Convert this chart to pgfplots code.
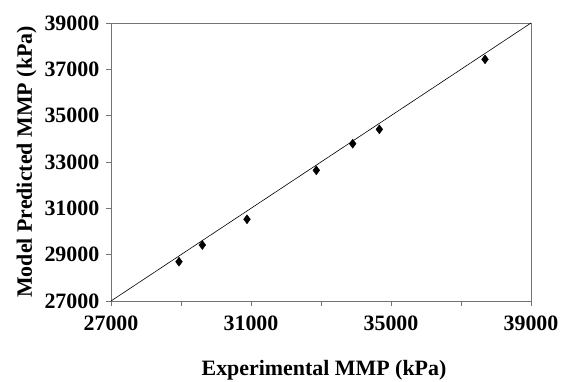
\documentclass[border=0pt]{standalone}
\usepackage{fontspec}
\setmainfont{Liberation Serif}
\usepackage{pgfplots}
\pgfplotsset{compat=1.18}
\begin{document}
\begin{tikzpicture}[x=1bp,y=1bp]
\begin{axis}[
  at={(0,0)}, anchor=south west,
  scale only axis, width=420bp, height=278bp,
  xmin=27000, xmax=39000, ymin=27000, ymax=39000,
  scaled ticks=false,
  xtick={27000,29000,31000,33000,35000,37000,39000},
  xticklabels={27000,,31000,,35000,,39000},
  ytick={27000,29000,31000,33000,35000,37000,39000},
  yticklabels={27000,29000,31000,33000,35000,37000,39000},
  tick align=outside, major tick length=4.5bp,
  xtick pos=bottom, ytick pos=left,
  axis line style={draw=black!55, line width=0.8bp},
  tick style={draw=black!55, line width=0.8bp},
  ticklabel style={font=\fontsize{22}{26}\selectfont\bfseries},
  yticklabel style={anchor=east, inner sep=0pt, xshift=-7bp},
  xticklabel style={anchor=base, inner sep=0pt, yshift=-25bp},
  clip=false,
]
\addplot[black, line width=0.6bp, no marks] coordinates {(27000,27000) (39000,39000)};
\addplot[only marks, mark=diamond*, mark size=4.5bp, black] coordinates {
(28943,28697)
(29610,29417)
(30886,30526)
(32866,32641)
(33905,33790)
(34667,34410)
(37686,37431)
};
\end{axis}
\node[anchor=base, font=\fontsize{22}{26}\selectfont\bfseries] at (213bp,-74bp) {Experimental MMP (kPa)};
\node[anchor=base, rotate=90, font=\fontsize{22}{26}\selectfont\bfseries] at (-79bp,139bp) {Model Predicted MMP (kPa)};
\pgfresetboundingbox
\path (-111bp,-81bp) rectangle (452bp,301bp);
\end{tikzpicture}
\end{document}
